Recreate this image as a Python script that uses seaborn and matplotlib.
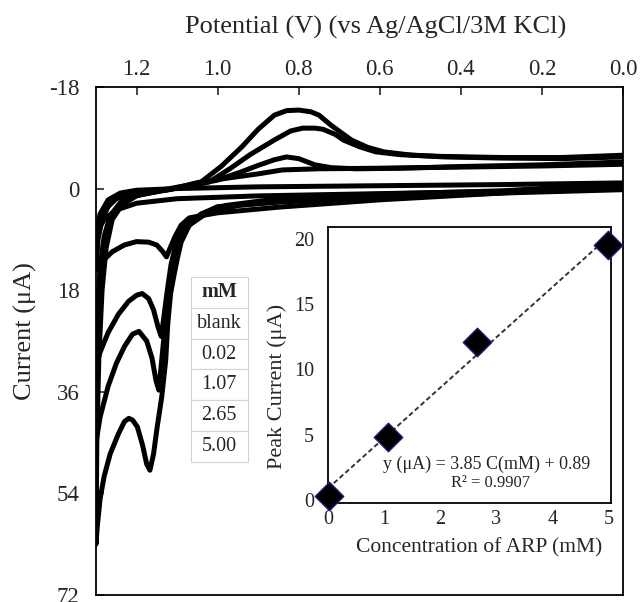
import seaborn as sns
import matplotlib.pyplot as plt

# cyclic voltammograms, potential (V) vs current (uA); forward scan then reverse scan
blank_x = [0.0, 0.3, 0.6, 0.9, 1.1, 1.2, 1.25, 1.28, 1.30,
           1.29, 1.27, 1.24, 1.2, 1.1, 0.9, 0.6, 0.3, 0.0]
blank_y = [0.0, 0.5, 0.9, 1.3, 1.8, 2.6, 3.8, 5.5, 8.0,
           4.5, 2.0, 0.8, 0.3, 0.0, -0.3, -0.5, -0.7, -1.0]

c002_x = [0.0, 0.3, 0.6, 0.85, 1.0, 1.04, 1.07, 1.09, 1.105, 1.117, 1.126, 1.135, 1.15, 1.17, 1.2, 1.23, 1.26, 1.28, 1.30,
          1.295, 1.285, 1.27, 1.25, 1.2, 1.12, 1.05, 0.98, 0.9, 0.84, 0.75, 0.6, 0.4, 0.2, 0.0]
c002_y = [-0.5, 0.8, 2.0, 3.3, 4.3, 4.8, 5.2, 6.5, 8.5, 10.5, 12.1, 11.2, 10.0, 9.5, 9.4, 10.0, 11.2, 12.6, 14.5,
          9.0, 5.5, 3.2, 1.8, 0.8, 0.2, -1.0, -1.8, -2.6, -3.3, -3.5, -3.6, -3.8, -4.0, -4.3]

c107_x = [0.0, 0.3, 0.6, 0.85, 0.98, 1.04, 1.08, 1.10, 1.115, 1.125, 1.133, 1.139, 1.147, 1.158, 1.17, 1.186, 1.2, 1.22, 1.245, 1.27, 1.29, 1.30,
          1.297, 1.29, 1.28, 1.265, 1.24, 1.2, 1.13, 1.06, 1.0, 0.94, 0.9, 0.86, 0.83, 0.80, 0.76, 0.72, 0.66, 0.55, 0.4, 0.2, 0.0]
c107_y = [-0.8, 0.4, 1.0, 1.8, 3.0, 4.5, 6.5, 9.0, 13.5, 18.5, 23.0, 26.2, 24.5, 21.5, 19.5, 18.6, 18.9, 20.0, 22.3, 25.5, 29.0, 31.5,
          22.0, 14.0, 8.5, 4.8, 2.5, 1.2, 0.3, -0.6, -1.5, -3.0, -4.1, -5.1, -5.6, -5.3, -4.2, -3.7, -3.5, -3.6, -3.9, -4.2, -4.7]

c265_x = [0.0, 0.3, 0.6, 0.8, 0.95, 1.03, 1.07, 1.095, 1.11, 1.122, 1.132, 1.14, 1.145, 1.152, 1.162, 1.175, 1.194, 1.21, 1.23, 1.25, 1.27, 1.29, 1.30,
          1.297, 1.29, 1.28, 1.265, 1.24, 1.2, 1.13, 1.06, 1.02, 0.97, 0.92, 0.86, 0.82, 0.79, 0.76, 0.74, 0.71, 0.69, 0.65, 0.61, 0.55, 0.45, 0.3, 0.15, 0.0]
c265_y = [-0.3, 0.6, 1.3, 2.0, 3.0, 4.5, 6.5, 9.0, 13.0, 19.0, 26.0, 32.0, 35.7, 34.0, 30.0, 27.0, 25.3, 25.8, 28.0, 31.0, 35.0, 40.5, 45.0,
          30.0, 17.0, 9.5, 5.0, 2.6, 1.2, 0.3, -0.6, -1.2, -3.5, -6.0, -8.6, -10.2, -10.7, -10.7, -10.5, -9.6, -8.6, -7.4, -6.5, -6.0, -5.7, -5.5, -5.5, -5.9]

c500_x = [0.0, 0.3, 0.6, 0.85, 1.0, 1.04, 1.07, 1.09, 1.10, 1.108, 1.116, 1.123, 1.128, 1.138, 1.149, 1.158, 1.167, 1.175, 1.185, 1.198, 1.21, 1.219, 1.23, 1.245, 1.265, 1.28, 1.29, 1.297, 1.30,
          1.298, 1.293, 1.285, 1.275, 1.26, 1.235, 1.2, 1.14, 1.08, 1.04, 0.99, 0.94, 0.90, 0.86, 0.83, 0.80, 0.77, 0.75, 0.72, 0.67, 0.63, 0.59, 0.52, 0.44, 0.3, 0.15, 0.0]
c500_y = [0.2, 0.8, 1.6, 2.4, 3.2, 4.5, 6.5, 9.5, 12.6, 15.5, 18.6, 24.0, 30.4, 37.0, 42.2, 47.0, 49.9, 48.8, 45.5, 42.2, 41.0, 40.7, 41.3, 43.5, 47.0, 51.0, 55.0, 60.0, 63.0,
          45.0, 30.0, 18.0, 10.5, 5.5, 2.8, 1.3, 0.3, -0.5, -1.2, -4.0, -7.4, -10.5, -13.0, -13.8, -13.9, -13.6, -13.0, -11.2, -8.6, -7.3, -6.5, -5.9, -5.6, -5.4, -5.3, -5.6]

table_labels = ["mM", "blank", "0.02", "1.07", "2.65", "5.00"]

# inset: calibration
conc = [0.02, 1.07, 2.65, 5.00]
peak_current = [0.3, 4.8, 12.1, 19.5]
fit_x = [0.0, 5.0]
fit_y = [0.89, 20.14]

sns.set_style("white")
plt.rcParams['font.family'] = ['Liberation Serif', 'DejaVu Serif']
plt.rcParams['axes.unicode_minus'] = False

fig = plt.figure(figsize=(6.4, 6.02), dpi=100)
ax = fig.add_axes([0.15, 0.0116, 0.8234, 0.844])

for xs, ys in [(blank_x, blank_y), (c002_x, c002_y), (c107_x, c107_y),
               (c265_x, c265_y), (c500_x, c500_y)]:
    sns.lineplot(x=xs, y=ys, sort=False, estimator=None, color="black",
                 lw=3.6, solid_joinstyle="round", solid_capstyle="round", ax=ax)

ax.set_xlim(1.3, 0.0)
ax.set_ylim(72, -18)
ax.set_xticks([1.2, 1.0, 0.8, 0.6, 0.4, 0.2, 0.0])
ax.set_xticklabels(["1.2", "1.0", "0.8", "0.6", "0.4", "0.2", "0.0"])
ax.set_yticks([-18, 0, 18, 36, 54, 72])
ax.xaxis.tick_top()
ax.xaxis.set_label_position("top")
ax.tick_params(axis="x", direction="in", length=6, width=1.2, labelsize=16.5, pad=5,
               top=True, bottom=False, labeltop=True, labelbottom=False)
ax.tick_params(axis="y", direction="in", length=6, width=1.2, labelsize=16.5, pad=12,
               left=True, right=False)
for s in ax.spines.values():
    s.set_linewidth(1.3)
    s.set_color("black")
ax.set_xlabel("Potential (V) (vs Ag/AgCl/3M KCl)", fontsize=19)
ax.xaxis.set_label_coords(0.53, 1.105)
ax.set_ylabel("Current (μA)", fontsize=19)
ax.yaxis.set_label_coords(-0.112, 0.52)

tbl = ax.table(cellText=[[t] for t in table_labels], cellLoc="center",
               bbox=[0.180, 0.262, 0.108, 0.364])
tbl.auto_set_font_size(False)
tbl.set_fontsize(14.5)
for (r, c), cell in tbl.get_celld().items():
    cell.set_edgecolor("#d4d4d4")
    cell.set_linewidth(0.8)
    cell.set_facecolor("white")
    if r == 0:
        cell.get_text().set_fontweight("bold")

# inset
ins = fig.add_axes([0.5125, 0.1645, 0.4425, 0.4585])
ins.set_facecolor("white")
sns.lineplot(x=fit_x, y=fit_y, color="#333333", lw=1.4, linestyle=(0, (2.5, 1.5)), ax=ins)
sns.scatterplot(x=conc, y=peak_current, marker="D", s=210, color="black",
                edgecolor="#1a1a80", linewidth=1.0, zorder=3, clip_on=False, ax=ins)
ins.set_xlim(0, 5.05)
ins.set_ylim(-0.23, 20.9)
ins.set_xticks([0, 1, 2, 3, 4, 5])
ins.set_yticks([0, 5, 10, 15, 20])
ins.tick_params(axis="both", direction="in", length=5, width=1.2, labelsize=14.5)
ins.tick_params(axis="y", pad=10)
ins.tick_params(axis="x", pad=5)
for s in ins.spines.values():
    s.set_linewidth(1.3)
    s.set_color("black")
ins.set_xlabel("Concentration of ARP (mM)", fontsize=15.5)
ins.xaxis.set_label_coords(0.534, -0.127)
ins.set_ylabel("Peak Current (μA)", fontsize=16)
ins.yaxis.set_label_coords(-0.145, 0.424)
ins.text(2.83, 2.75, "y (μA) = 3.85 C(mM) + 0.89", fontsize=13, ha="center", va="center")
ins.text(2.9, 1.3, "R² = 0.9907", fontsize=12, ha="center", va="center")

fig.savefig("out.png", dpi=100)
